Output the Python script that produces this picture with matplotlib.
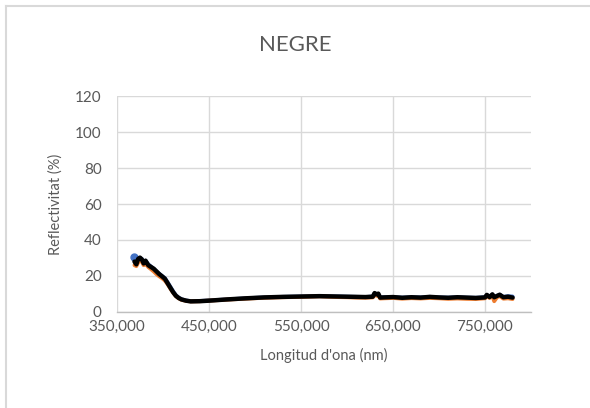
import matplotlib.pyplot as plt
from matplotlib.lines import Line2D

plt.rcParams['font.family'] = ['Lato', 'DejaVu Sans']

# Wavelength samples and reflectance of the three measurements
wavelength = [369000, 371000, 373000, 375000, 377000, 379000, 381000, 384000, 387000,
              390000, 393000, 396000, 399000, 402000, 405000, 408000, 411000, 414000,
              417000, 420000, 425000, 430000, 440000, 450000, 470000, 490000, 510000,
              530000, 550000, 570000, 580000, 590000, 600000, 610000, 620000, 628000,
              630000, 632000, 634000, 636000, 640000, 650000, 660000, 670000, 680000,
              690000, 700000, 710000, 720000, 730000, 740000, 750000, 752000, 755000,
              758000, 760000, 763000, 766000, 770000, 775000, 780000]

meas_1 = [30.7, 27.5, 29.0, 29.8, 29.5, 27.5, 28.5, 26.5, 25.2, 24.0, 22.5, 21.2, 20.0,
          18.8, 16.5, 14.0, 11.5, 9.3, 8.0, 7.1, 6.4, 6.0, 6.1, 6.4, 7.0, 7.6, 8.1,
          8.4, 8.6, 8.8, 8.7, 8.6, 8.5, 8.4, 8.3, 8.6, 10.3, 9.6, 10.0, 8.1, 8.2, 8.3,
          8.0, 8.2, 8.1, 8.4, 8.1, 8.0, 8.2, 8.0, 7.9, 8.2, 9.4, 8.4, 9.7, 8.4, 9.0,
          9.6, 8.4, 8.8, 8.6]

meas_2 = [26.0, 25.5, 27.5, 28.5, 28.0, 26.0, 27.0, 25.0, 23.8, 22.5, 21.0, 19.8, 18.8,
          17.5, 15.5, 13.0, 10.8, 8.8, 7.6, 6.8, 6.2, 5.9, 6.0, 6.3, 6.9, 7.4, 7.9,
          8.2, 8.4, 8.7, 8.5, 8.3, 8.2, 8.0, 7.9, 8.1, 9.8, 9.0, 9.4, 7.5, 7.6, 7.8,
          7.4, 7.7, 7.5, 7.8, 7.6, 7.3, 7.5, 7.3, 7.2, 7.6, 8.8, 7.8, 9.0, 6.0, 8.2,
          8.8, 7.4, 7.6, 7.2]

meas_3 = [28.0, 26.5, 29.5, 30.2, 29.2, 27.0, 28.5, 26.0, 25.0, 24.0, 22.5, 21.0, 19.8,
          18.5, 16.0, 13.5, 11.0, 9.0, 7.8, 7.0, 6.3, 5.9, 6.0, 6.3, 7.0, 7.6, 8.1,
          8.4, 8.6, 8.8, 8.7, 8.6, 8.5, 8.4, 8.3, 8.5, 10.5, 9.8, 10.2, 8.0, 8.1, 8.3,
          7.9, 8.2, 8.0, 8.4, 8.1, 7.9, 8.2, 8.0, 7.8, 8.1, 9.5, 8.3, 9.8, 8.2, 8.9,
          9.6, 8.2, 8.5, 8.0]

x_ticks = [350000, 450000, 550000, 650000, 750000]
y_ticks = [0, 20, 40, 60, 80, 100, 120]

text_col = '#595959'
grid_col = '#d9d9d9'

fig = plt.figure(figsize=(5.9, 4.08), dpi=100)
ax = fig.add_axes([0.1983, 0.2353, 0.7017, 0.5294])

ax.plot(wavelength, meas_1, color='#4472c4', lw=2.8, solid_capstyle='round')
ax.plot(wavelength[:1], meas_1[:1], 'o', color='#4472c4', ms=5)
ax.plot(wavelength, meas_2, color='#ed7d31', lw=2.8, solid_capstyle='round')
ax.plot(wavelength, meas_3, color='black', lw=3.2, solid_capstyle='round')

ax.set_xlim(350000, 800000)
ax.set_ylim(0, 120)
ax.set_xticks(x_ticks)
ax.set_xticklabels([f'{v:,}' for v in x_ticks])
ax.set_yticks(y_ticks)
ax.grid(True, color=grid_col, lw=1.0)
ax.set_axisbelow(True)
for side in ['top', 'right', 'left']:
    ax.spines[side].set_visible(False)
ax.spines['bottom'].set_color('#bfbfbf')
ax.spines['bottom'].set_linewidth(1.0)
ax.tick_params(axis='both', length=0, labelsize=11, labelcolor=text_col)
ax.tick_params(axis='y', pad=11)
ax.tick_params(axis='x', pad=6)

ax.set_ylabel('Reflectivitat (%)', fontsize=10.5, color=text_col, labelpad=9)
ax.set_xlabel("Longitud d'ona (nm)", fontsize=10.5, color=text_col, labelpad=10)

fig.text(0.5, 1 - 45 / 408, 'NEGRE', ha='center', va='center', fontsize=16, color=text_col)

# chart-area frame (left and top edges)
x0, y0 = 6 / 590, 1 - 6 / 408
fig.lines.append(Line2D([x0, x0], [0, y0], transform=fig.transFigure, color='#d9d9d9', lw=1.5))
fig.lines.append(Line2D([x0, 1], [y0, y0], transform=fig.transFigure, color='#d9d9d9', lw=1.5))

fig.savefig('out.png', dpi=100)
